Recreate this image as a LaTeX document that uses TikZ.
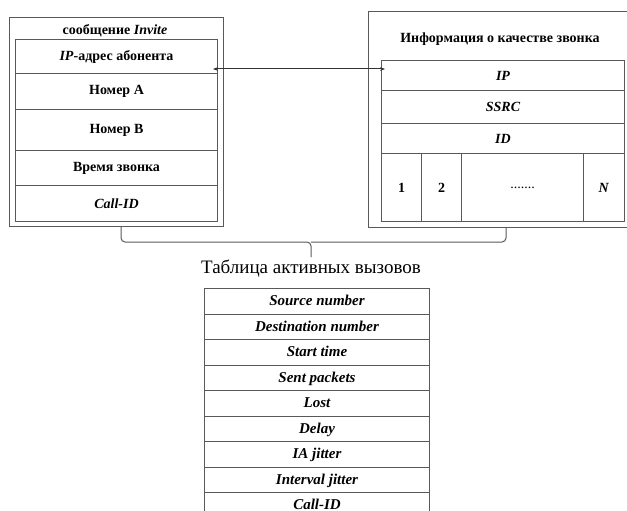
\documentclass[tikz,border=0pt]{standalone}
\usepackage{fontspec}
\setmainfont{Liberation Serif}
\usetikzlibrary{arrows.meta,positioning}

\begin{document}
\begin{tikzpicture}[x=1pt,y=-1pt,line width=1pt,
  frame/.style={draw=black!65},
  cell/.style={frame,anchor=north west,inner sep=0pt,font=\fontsize{14}{16}\selectfont\bfseries},
  field/.style={cell,minimum height=25.5pt,minimum width=225pt,text height=9pt,text depth=0pt,
    font=\fontsize{15}{17}\selectfont\bfseries\itshape}]
  \useasboundingbox (0,0) rectangle (627,511);
  % rama sleva: soobshchenie Invite
  \draw[frame] (9,18) rectangle (223,226);
  \node[font=\fontsize{14}{16}\selectfont\bfseries] (inv) at (115,31) {сообщение \textit{Invite}};
  \foreach \n/\y/\h/\t in {ip/39/34/{\textit{IP}-адрес абонента},na/73/36/{Номер А},nb/109/41/{Номер В},
    tm/150/35/{Время звонка},cid/185/36/{\textit{Call-ID}}}
    {\node[cell,minimum width=202pt,minimum height=\h pt] (\n) at (15,\y) {\t};}
  % rama sprava: kachestvo zvonka
  \draw[frame] (368,12) rectangle (640,227);
  \node[font=\fontsize{14}{16}\selectfont\bfseries] (qt) at (500,39) {Информация о качестве звонка};
  \foreach \n/\y/\h/\t in {qip/60/30/{IP},ssrc/90/33/{SSRC},qid/123/30/{ID}}
    {\node[cell,minimum width=243pt,minimum height=\h pt,font=\fontsize{14}{16}\selectfont\bfseries\itshape] (\n) at (381,\y) {\t};}
  \foreach \n/\x/\w/\t in {c1/381/40/1,c2/421/40/2,cd/461/122/{\mdseries.......},cn/583/41/{\textit{N}}}
    {\node[cell,minimum width=\w pt,minimum height=68pt] (\n) at (\x,153) {\t};}
  % spojeni IP
  \coordinate (aL) at (213,69); \coordinate (aR) at (385,69);
  \draw[{Stealth[length=5pt]}-{Stealth[length=5pt]},black!80] (aL) -- (aR);
  % zavorka
  \coordinate (bL) at (121,226); \coordinate (bR) at (506,227); \coordinate (bM) at (311,242);
  \draw[frame,rounded corners=4pt] (bL) |- (bM) -- ++(0,15) coordinate (bT);
  \draw[frame,rounded corners=4pt] (bR) |- (bM);
  \node[font=\fontsize{19}{21}\selectfont,below=-1pt of bT] (tab) {Таблица активных вызовов};
  % tabulka vyzovu
  \foreach \i/\t in {0/Source number,1/Destination number,2/Start time,3/Sent packets,4/Lost,
    5/Delay,6/IA jitter,7/Interval jitter,8/Call-ID}
    {\node[field] (f\i) at (204,288+25.5*\i) {\t};}
\end{tikzpicture}
\end{document}
